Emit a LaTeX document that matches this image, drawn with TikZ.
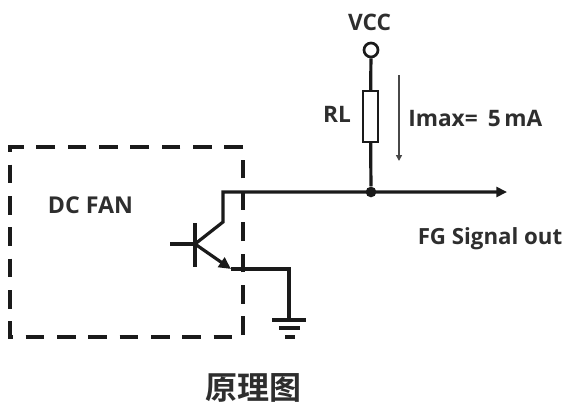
\documentclass[tikz,border=0pt]{standalone}
\usepackage{fontspec}
\setmainfont{Open Sans}
\newfontfamily\cjk{Noto Sans CJK SC}[BoldFont={Noto Sans CJK SC Bold}]
\usetikzlibrary{arrows.meta}
\definecolor{ink}{HTML}{1A1A1A}
\definecolor{txt}{HTML}{2E2E2E}
\tikzset{
  wire/.style={draw=ink,line width=2.4pt},
  thick wire/.style={draw=ink,line width=3pt},
  fanbox/.style={draw=ink,line width=3pt,dash pattern=on 14pt off 9.5pt},
  lab/.style={font=\fontsize{17pt}{19pt}\selectfont\bfseries,text=txt,inner sep=0pt},
  junction/.style={circle,fill=ink,inner sep=0pt,minimum size=8pt},
}
\begin{document}
\begin{tikzpicture}[x=0.75pt,y=-0.75pt]
\useasboundingbox (0,0) rectangle (566,403);
% dashed box
\draw[fanbox] (243,147) -- (10,147) -- (10,337) -- (243,337) -- cycle;
% named points
\node[circle,draw=ink,line width=2pt,fill=white,minimum size=10.5pt,inner sep=0pt] (vcc) at (371,50) {};
\node[rectangle,draw=ink,line width=1.9pt,fill=white,minimum width=11.5pt,minimum height=38pt,inner sep=0pt] (rl) at (370.5,116.5) {};
\node[junction] (dot) at (371,192) {};
\coordinate (outend) at (507,192);
\coordinate (c0) at (223,192);
\coordinate (c1) at (223,222);
\coordinate (bj) at (195,244);
\coordinate (bt) at (195,223);
\coordinate (bb) at (195,267);
\coordinate (bl) at (170,244);
\coordinate (e0) at (231,269);
\coordinate (e1) at (289,269);
\coordinate (gnd) at (289,320);
\coordinate (g1l) at (272,320); \coordinate (g1r) at (306,320);
\coordinate (g2l) at (279,328); \coordinate (g2r) at (300,328);
\coordinate (g3l) at (285,337); \coordinate (g3r) at (295,337);
\coordinate (ia) at (399,75);
\coordinate (ib) at (399,161);
% wires
\draw[wire] (vcc) -- (rl);
\draw[wire] (rl) -- (dot);
\draw[wire,line join=miter,-{Triangle[length=8pt,width=7.5pt]}] (bj) -- (c1) -- (c0) -- (outend);
\draw[thick wire] (bt) -- (bb);
\draw[thick wire] (bl) -- (bj);
\draw[wire,-{Triangle[length=9pt,width=8.5pt]}] (bj) -- (e0);
\draw[wire] (e0) -- (e1) -- (gnd);
\draw[wire] (g1l) -- (g1r);
\draw[wire] (g2l) -- (g2r);
\draw[wire] (g3l) -- (g3r);
\draw[draw=ink!80,line width=1.2pt,-{Triangle[length=4.5pt,width=4.5pt]}] (ia) -- (ib);
% labels
\node[lab] (tvcc) at (369.5,22) {VCC};
\node[lab] (trl) at (337,114) {RL};
\node[lab,anchor=west] (timax) at (408,118) {Imax=\hspace{0.45em}5\hspace{0.15em}mA};
\node[lab,font=\fontsize{17.4pt}{19pt}\selectfont\bfseries] (tfan) at (90.5,205) {DC FAN};
\node[lab,font=\fontsize{16.7pt}{19pt}\selectfont\bfseries] (tfg) at (490,239) {FG Signal out};
\node[font=\fontsize{24pt}{28pt}\selectfont\cjk\bfseries,text=txt,inner sep=0pt] (title) at (253,388) {原理图};
\end{tikzpicture}
\end{document}
